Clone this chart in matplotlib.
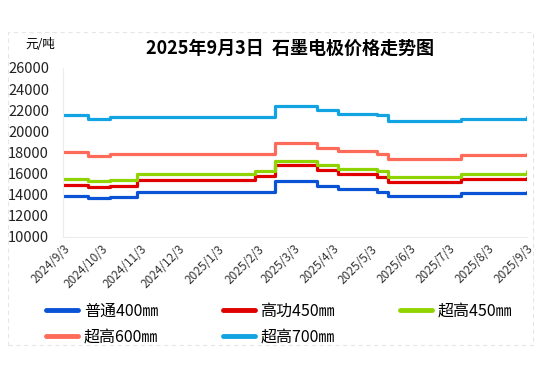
import matplotlib.pyplot as plt
import numpy as np
import pandas as pd
from matplotlib.patches import Rectangle

plt.rcParams['font.family'] = ['Noto Sans CJK SC', 'DejaVu Sans']

# price change dates (last entry = latest date)
change_dates = ['2024-09-03', '2024-09-23', '2024-10-10', '2024-10-31', '2025-02-01',
                '2025-02-17', '2025-03-22', '2025-04-07', '2025-05-08', '2025-05-17',
                '2025-07-13', '2025-09-03']

p400 = [13900, 13700, 13800, 14300, 14300, 15300, 14800, 14500, 14300, 13900, 14200, 14300]
hp450 = [14900, 14700, 14800, 15400, 15800, 16800, 16300, 16000, 15700, 15200, 15500, 15600]
uhp450 = [15500, 15300, 15400, 16000, 16200, 17200, 16800, 16400, 16200, 15700, 16000, 16200]
uhp600 = [18000, 17700, 17900, 17900, 17900, 18900, 18400, 18100, 17900, 17400, 17800, 17900]
uhp700 = [21500, 21200, 21400, 21400, 21400, 22400, 22000, 21600, 21500, 21000, 21200, 21400]

names = ['普通400㎜', '高功450㎜', '超高450㎜', '超高600㎜', '超高700㎜']
colors = ['#0a52d6', '#e00000', '#8fd400', '#ff6b5b', '#12a3e3']
tick_dates = ['2024-09-03', '2024-10-03', '2024-11-03', '2024-12-03', '2025-01-03',
              '2025-02-03', '2025-03-03', '2025-04-03', '2025-05-03', '2025-06-03',
              '2025-07-03', '2025-08-03', '2025-09-03']

dates = pd.to_datetime(change_dates)
fig = plt.figure(figsize=(5.5, 3.84), dpi=100)
ax = fig.add_axes([0.1145, 0.383, 0.8435, 0.44])

lines = []
for vals, name, c in zip([p400, hp450, uhp450, uhp600, uhp700], names, colors):
    ln, = ax.plot(dates, vals, drawstyle='steps-post', color=c, lw=2.3, label=name,
                  solid_joinstyle='round', solid_capstyle='round')
    lines.append(ln)

ax.set_ylim(10000, 26000)
ax.set_yticks(np.arange(10000, 26001, 2000))
ax.set_xlim(pd.Timestamp('2024-09-03'), pd.Timestamp('2025-09-03'))
ticks = pd.to_datetime(tick_dates)
ax.set_xticks(ticks)
ax.set_xticklabels([f'{d.year}/{d.month}/{d.day}' for d in ticks], rotation=45,
                   ha='right', va='top', fontsize=8.5, rotation_mode='anchor',
                   color='#333333')
ax.tick_params(axis='y', labelsize=10.5, length=0, pad=10, labelcolor='#222222')
ax.tick_params(axis='x', length=0, pad=4)
for s in ['top', 'right']:
    ax.spines[s].set_visible(False)
for s in ['left', 'bottom']:
    ax.spines[s].set_color('#ececec')

fig.text(0.527, 0.875, '2025年9月3日  石墨电极价格走势图', ha='center', va='center',
         fontsize=13, fontweight='bold')
fig.text(0.073, 0.883, '元/吨', ha='center', va='center', fontsize=9)

order = [0, 3, 1, 4, 2]
leg = fig.legend([lines[i] for i in order], [names[i] for i in order],
                 loc='upper left', bbox_to_anchor=(0.058, 0.25), ncol=3, frameon=False,
                 fontsize=11.5, handlelength=2.0, columnspacing=4.05, handletextpad=0.35,
                 labelspacing=0.55)
for h in leg.legend_handles:
    h.set_linewidth(3.5)
    h.set_solid_capstyle('round')

fig.patches.append(Rectangle((8 / 550, 1 - 345 / 384), 525 / 550, 313 / 384,
                             transform=fig.transFigure, fill=False, ec='#e6e6e6',
                             ls=(0, (4, 3)), lw=0.8))

fig.savefig('out.png', dpi=100)
